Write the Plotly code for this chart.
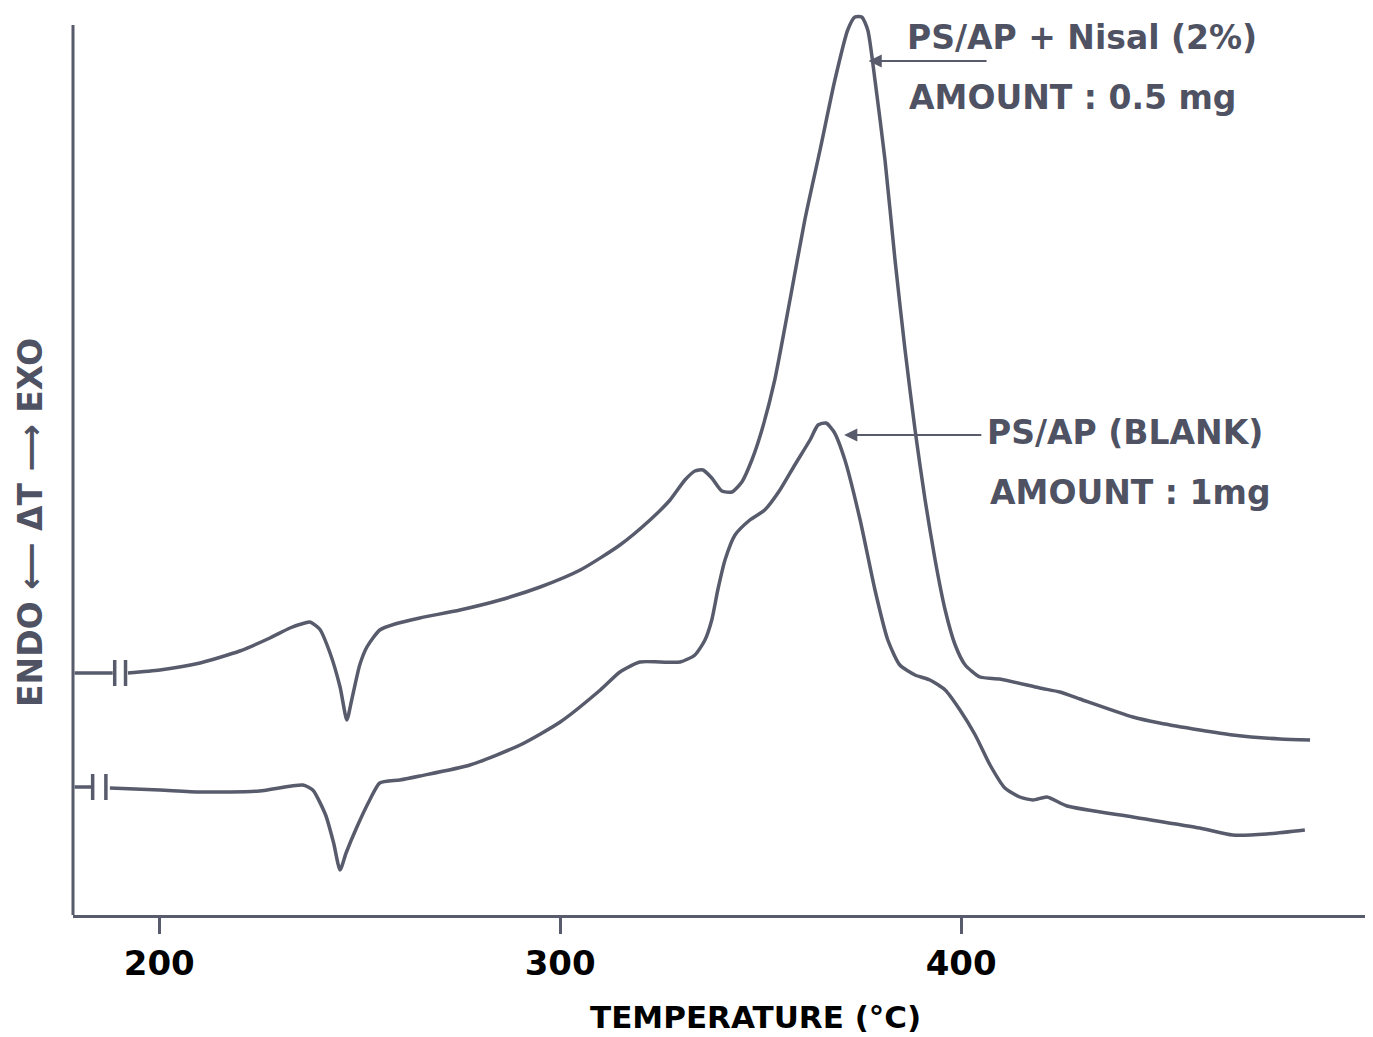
import plotly.graph_objects as go

LINE = "#575b6b"
TEXT = "#4f5262"
FONT = "DejaVu Sans, sans-serif"

# ---- data (temperature in degC, signal in arbitrary DTA units) ----
nisal_T = [192.2, 200.2, 210.2, 220.1, 227.6, 232.6, 236.3, 237.6, 240.0, 242.6, 245.1, 246.8, 248.0,
           250.0, 251.8, 255.0, 258.8, 265.0, 275.0, 285.0, 295.0, 305.0, 314.9, 322.4, 327.4, 331.1,
           333.6, 335.6, 337.8, 340.3, 342.8, 345.3, 347.8, 350.3, 353.5, 357.3, 361.0, 364.8, 368.5,
           371.7, 373.5, 375.2, 376.7, 378.5, 381.0, 383.5, 386.0, 388.5, 391.0, 393.5, 396.0, 398.5,
           401.0, 404.7, 409.6, 419.6, 424.6, 429.6, 442.8, 449.5, 459.5, 467.7, 479.5, 487.0]
nisal_y = [242, 245, 252, 264, 277, 287, 292, 293, 286, 262, 228, 195, 215,
           250, 268, 285, 291, 297, 305, 315, 328, 345, 370, 395, 415, 435,
           444, 445, 437, 424, 423, 433, 455, 485, 535, 615, 695, 765, 835,
           885, 898, 898, 885, 835, 755, 655, 565, 485, 415, 355, 305, 270,
           250, 238, 236, 227, 223, 216, 198, 192, 185, 180, 176, 175]
nisal_lead_T = [178.9, 188.4]
nisal_lead_y = [242, 242]
nisal_breaks_T = [188.9, 191.6]
nisal_base = 242

blank_T = [187.7, 200.2, 210.2, 225.0, 235.8, 238.3, 241.5, 243.5, 245.1, 246.6, 249.3, 252.5, 255.0,
           260.0, 265.0, 277.5, 290.0, 300.0, 310.0, 314.9, 319.9, 324.9, 329.9, 333.6, 336.1, 337.8,
           339.3, 341.1, 343.6, 347.3, 351.0, 354.8, 358.5, 362.3, 364.3, 366.3, 368.3, 371.0, 374.8,
           378.5, 381.7, 384.7, 388.5, 392.2, 396.0, 399.7, 403.5, 407.2, 410.9, 414.6, 417.9, 421.4,
           426.4, 442.8, 459.5, 467.7, 476.2, 485.7]
blank_y = [127, 125, 123, 124, 130, 125, 100, 72, 45, 62, 88, 115, 132,
           135, 139, 150, 170, 193, 225, 243, 253, 253, 253, 260, 275, 295,
           325, 355, 380, 395, 405, 425, 450, 475, 490, 492, 483, 455, 395,
           325, 275, 250, 240, 235, 225, 205, 180, 150, 127, 118, 115, 118,
           109, 98, 87, 80, 81, 85]
blank_lead_T = [178.9, 183.0]
blank_lead_y = [128, 128]
blank_breaks_T = [183.4, 186.7]
blank_base = 128

tick_vals = [200, 300, 400]
tick_text = ["200", "300", "400"]

fig = go.Figure()

def add_line(x, y):
    fig.add_trace(go.Scatter(x=x, y=y, mode="lines",
                             line=dict(color=LINE, width=3.5, shape="spline", smoothing=0.6),
                             hoverinfo="skip", showlegend=False))

def add_breaks(xs, base):
    bx, by = [], []
    for v in xs:
        bx += [v, v, None]
        by += [base - 13, base + 13, None]
    fig.add_trace(go.Scatter(x=bx, y=by, mode="lines", line=dict(color=LINE, width=3.5),
                             hoverinfo="skip", showlegend=False))

add_line(nisal_lead_T, nisal_lead_y)
add_breaks(nisal_breaks_T, nisal_base)
add_line(nisal_T, nisal_y)
add_line(blank_lead_T, blank_lead_y)
add_breaks(blank_breaks_T, blank_base)
add_line(blank_T, blank_y)

LABEL_FONT = dict(family=FONT, size=33, color=TEXT, weight="bold")

def label(text, x, y):
    fig.add_annotation(x=x, y=y, xref="x", yref="y", text=text, showarrow=False,
                       xanchor="left", yanchor="middle", font=LABEL_FONT)

def arrow(x_tip, x_tail, y):
    fig.add_annotation(x=x_tip, y=y, ax=x_tail, ay=y, xref="x", yref="y", axref="x", ayref="y",
                       text="", showarrow=True, arrowhead=2, arrowsize=1.2, arrowwidth=2.2, arrowcolor=LINE)

label("PS/AP + Nisal (2%)", 385.9, 878)
label("AMOUNT : 0.5 mg", 386.4, 818)
arrow(376.9, 406.7, 854)
label("PS/AP (BLANK)", 405.9, 483)
label("AMOUNT : 1mg", 406.6, 423)
arrow(370.8, 405.4, 480)

# axis titles placed as in the reference
fig.add_annotation(xref="paper", x=0, xshift=-43, y=392, yref="y", textangle=-90,
                   text="ENDO \u27f5 \u0394T \u27f6 EXO", showarrow=False,
                   xanchor="center", yanchor="middle",
                   font=dict(family=FONT, size=33, color=TEXT, weight="bold"))
fig.add_annotation(x=348.6, xref="x", yref="paper", y=0, yshift=-102,
                   text="TEMPERATURE (°C)", showarrow=False, xanchor="center", yanchor="middle",
                   font=dict(family=FONT, size=31, color="black", weight="bold"))

# y axis line (ends below the top of the peak, as drawn in the reference)
fig.add_shape(type="line", xref="paper", x0=0, x1=0, yref="y", y0=0, y1=890,
              line=dict(color=LINE, width=3))

fig.update_layout(
    width=1365, height=1029,
    margin=dict(l=65, r=0, t=2, b=122),
    paper_bgcolor="white", plot_bgcolor="white",
    xaxis=dict(range=[178.5, 502.7], tickvals=tick_vals, ticktext=tick_text,
               ticks="outside", ticklen=16, tickwidth=3, tickcolor=LINE,
               showline=True, linewidth=3, linecolor=LINE, showgrid=False, zeroline=False,
               tickfont=dict(family=FONT, size=34, color="black", weight="bold")),
    yaxis=dict(range=[0, 905], showticklabels=False, ticks="", showgrid=False, zeroline=False,
               showline=False),
)

fig.write_html("out.html")
